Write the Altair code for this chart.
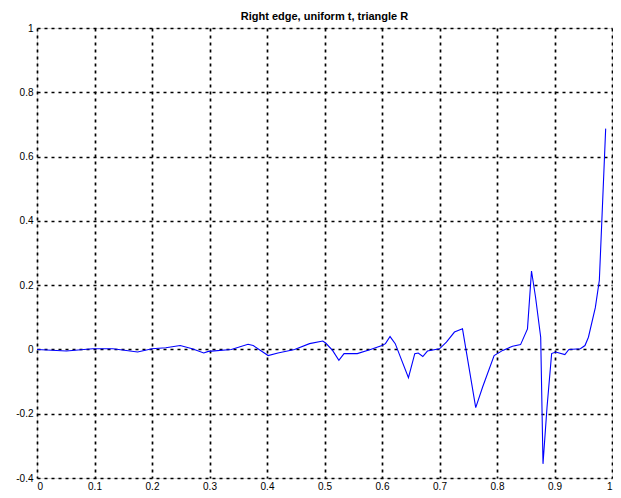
import altair as alt
import pandas as pd

t_vals = [0.0, 0.051, 0.097, 0.132, 0.175, 0.2, 0.224, 0.249, 0.27, 0.29,
          0.298, 0.338, 0.367, 0.376, 0.402, 0.419, 0.448, 0.474, 0.497, 0.502,
          0.514, 0.525, 0.534, 0.557, 0.58, 0.6, 0.606, 0.614, 0.623, 0.646,
          0.657, 0.663, 0.671, 0.679, 0.7, 0.712, 0.726, 0.74, 0.763, 0.775,
          0.795, 0.81, 0.827, 0.841, 0.853, 0.86, 0.867, 0.876, 0.88, 0.887,
          0.895, 0.902, 0.918, 0.925, 0.945, 0.953, 0.959, 0.971, 0.978, 0.989]
y_vals = [0.0, -0.005, 0.002, 0.002, -0.008, 0.002, 0.005, 0.012, 0.002, -0.011,
          -0.006, 0.0, 0.016, 0.012, -0.019, -0.011, 0.0, 0.018, 0.026, 0.02,
          -0.003, -0.034, -0.013, -0.013, 0.0, 0.012, 0.018, 0.04, 0.018, -0.088,
          -0.013, -0.011, -0.022, -0.005, 0.002, 0.023, 0.054, 0.064, -0.181, -0.117,
          -0.019, -0.003, 0.010, 0.015, 0.064, 0.244, 0.163, 0.038, -0.356, -0.18,
          -0.013, -0.008, -0.016, 0.0, 0.002, 0.012, 0.038, 0.13, 0.215, 0.687]

x_ticks = [0, 0.1, 0.2, 0.3, 0.4, 0.5, 0.6, 0.7, 0.8, 0.9, 1]
y_ticks = [-0.4, -0.2, 0, 0.2, 0.4, 0.6, 0.8, 1]

df = pd.DataFrame({"t": t_vals, "y": y_vals, "order": list(range(len(t_vals)))})

font = "Liberation Sans"

chart = alt.Chart(df).mark_line(color="#0000ff", strokeWidth=1.1).encode(
    x=alt.X("t:Q", scale=alt.Scale(domain=[0, 1], nice=False, zero=False),
            axis=alt.Axis(values=x_ticks, labelExpr="'' + datum.value", title=None,
                          grid=True, gridColor="black", gridDash=[3, 4], gridWidth=1.7,
                          gridOpacity=1, ticks=False, domain=False, labelPadding=3,
                          labelFontSize=10, labelColor="black", labelFont=font)),
    y=alt.Y("y:Q", scale=alt.Scale(domain=[-0.4, 1], nice=False, zero=False),
            axis=alt.Axis(values=y_ticks, labelExpr="'' + datum.value", title=None,
                          grid=True, gridColor="black", gridDash=[3, 4], gridWidth=1.7,
                          gridOpacity=1, ticks=False, domain=False, labelPadding=4,
                          labelFontSize=10, labelColor="black", labelFont=font)),
    order="order:Q",
).properties(
    width=575,
    height=450,
    title=alt.TitleParams("Right edge, uniform t, triangle R", fontSize=11,
                          fontWeight="bold", font=font, offset=1, color="black"),
    padding={"left": 29, "top": 20, "right": 1, "bottom": 12},
    autosize=alt.AutoSizeParams(type="none"),
).configure_view(
    stroke="black", strokeWidth=2
).configure(background="white")

chart.save("out.html", embed_options={"renderer": "svg", "actions": False})
